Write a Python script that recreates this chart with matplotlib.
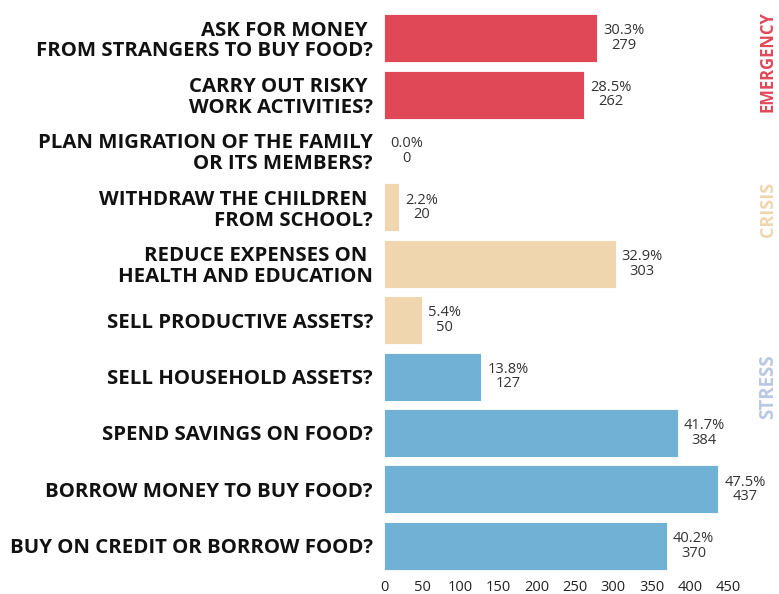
import matplotlib.pyplot as plt
import numpy as np

# Coping strategies, top to bottom
labels = [
    "ASK FOR MONEY \nFROM STRANGERS TO BUY FOOD?",
    "CARRY OUT RISKY \nWORK ACTIVITIES?",
    "PLAN MIGRATION OF THE FAMILY\nOR ITS MEMBERS?",
    "WITHDRAW THE CHILDREN \nFROM SCHOOL?",
    "REDUCE EXPENSES ON \nHEALTH AND EDUCATION",
    "SELL PRODUCTIVE ASSETS?",
    "SELL HOUSEHOLD ASSETS?",
    "SPEND SAVINGS ON FOOD?",
    "BORROW MONEY TO BUY FOOD?",
    "BUY ON CREDIT OR BORROW FOOD?",
]
counts = [279, 262, 0, 20, 303, 50, 127, 384, 437, 370]
percents = [30.3, 28.5, 0.0, 2.2, 32.9, 5.4, 13.8, 41.7, 47.5, 40.2]
groups = ["emergency"] * 3 + ["crisis"] * 3 + ["stress"] * 4

bar_colors = {"emergency": "#E04858", "crisis": "#EFD6AF", "stress": "#72B1D6"}
tag_colors = {"emergency": "#E04858", "crisis": "#EFD6AF", "stress": "#BAC8E2"}

plt.rcParams['font.family'] = ['Open Sans', 'DejaVu Sans']

fig = plt.figure(figsize=(7.79, 5.94), dpi=100)
ax = fig.add_axes([384 / 779, 1 - 574 / 594, (728 - 384) / 779, (574 - 10) / 594])

y = np.arange(len(labels))
ax.barh(y, counts, height=0.85, color=[bar_colors[g] for g in groups],
        edgecolor='white', linewidth=0.6)

for yi, c, p in zip(y, counts, percents):
    ax.text(c + 8, yi, f"{p:.1f}%\n{c}", ha='left', va='center',
            multialignment='center', fontsize=10.5, color='#333333',
            linespacing=0.95)

ax.set_ylim(len(labels) - 0.5, -0.5)
ax.set_xlim(0, 450)
ax.set_yticks(y)
ax.set_yticklabels(labels, fontsize=14.7, fontweight='bold', color='#111111',
                   linespacing=1.05)
ax.set_xticks(np.arange(0, 451, 50))
ax.tick_params(axis='x', length=0, labelsize=10.5, pad=4, colors='#222222')
ax.tick_params(axis='y', length=0, pad=8)
for s in ax.spines.values():
    s.set_visible(False)

# Group tags on the right
fig.text(768 / 779, 1 - 62 / 594, "EMERGENCY", rotation=90, ha='center', va='center',
         fontsize=12, fontweight='bold', color=tag_colors["emergency"])
fig.text(768 / 779, 1 - 209 / 594, "CRISIS", rotation=90, ha='center', va='center',
         fontsize=13, fontweight='bold', color=tag_colors["crisis"])
fig.text(768 / 779, 1 - 387 / 594, "STRESS", rotation=90, ha='center', va='center',
         fontsize=13.5, fontweight='bold', color=tag_colors["stress"])

fig.savefig("out.png", dpi=100)
